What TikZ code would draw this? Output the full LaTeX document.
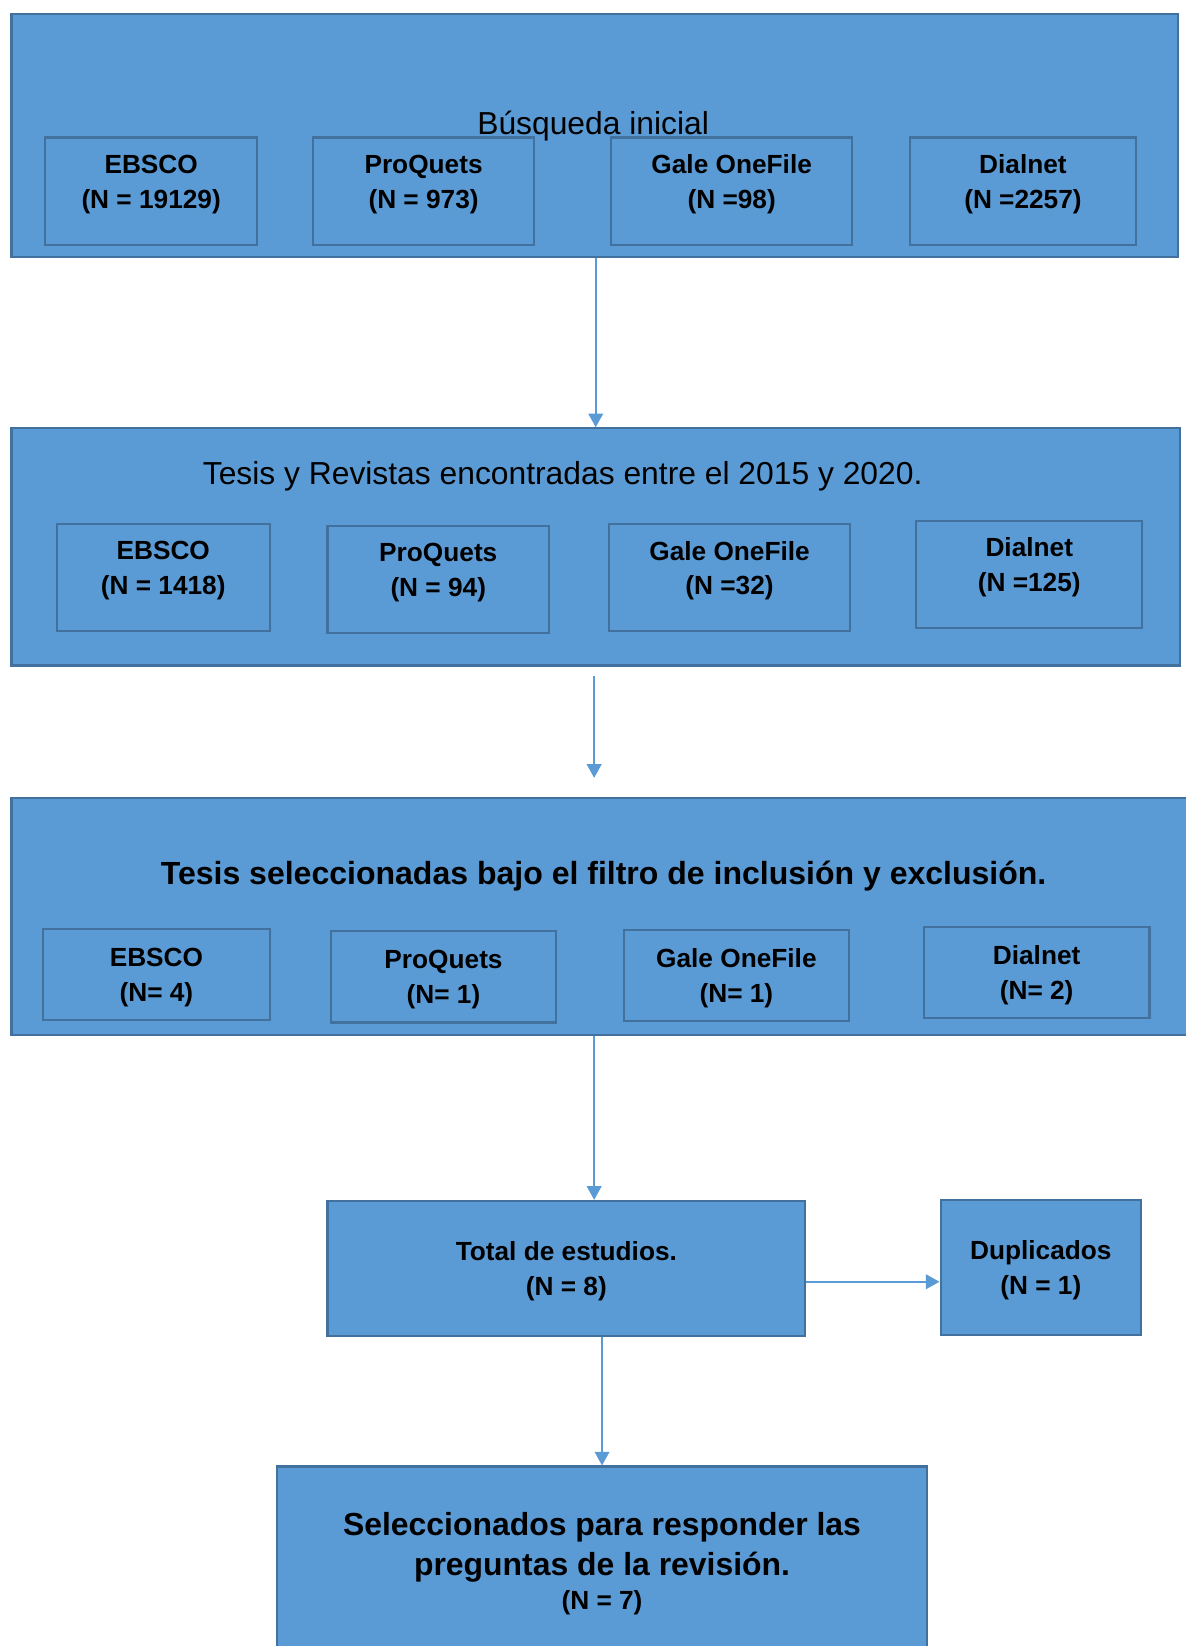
\documentclass[tikz,border=0pt]{standalone}
\usepackage{fontspec}
\setmainfont{Liberation Sans}
\usetikzlibrary{arrows.meta,positioning,calc}
\definecolor{ofblue}{HTML}{5B9BD5}
\definecolor{ofedge}{HTML}{41719C}

\begin{document}
\begin{tikzpicture}[
  x=1pt, y=-1pt,
  stage/.style={draw=ofedge, fill=ofblue, line width=2pt, anchor=north west, inner sep=0pt},
  src/.style={draw=ofedge, line width=2pt, align=center, inner sep=0pt, text depth=0pt,
              font=\fontsize{25}{33}\selectfont\bfseries},
  raised/.style={text depth=18pt},
  res/.style={src, fill=ofblue},
  hdr/.style={font=\fontsize{30.3}{36}\selectfont, inner sep=0pt},
  arr/.style={-{Triangle[length=13pt, width=14pt]}, draw=ofblue, line width=1.5pt}
]
\useasboundingbox (0,0) rectangle (1129,1568);

% ---------------- busqueda inicial ----------------
\node[stage, minimum width=1111pt, minimum height=232pt] (busq) at (10,12) {};
\node[hdr] (busqt) at (565,120) {Búsqueda inicial};
\node[src, raised, minimum width=202pt, minimum height=102pt] (b1) at (144,182) {EBSCO\\(N = 19129)};
\node[src, raised, minimum width=211pt, minimum height=102pt] (b2) at (403.5,182) {ProQuets\\(N = 973)};
\node[src, raised, minimum width=230pt, minimum height=102pt] (b3) at (697,182) {Gale OneFile\\(N =98)};
\node[src, raised, minimum width=215pt, minimum height=102pt] (b4) at (974.5,182) {Dialnet\\(N =2257)};

% ---------------- 2015 - 2020 ----------------
\node[stage, minimum width=1113pt, minimum height=226pt] (anios) at (10,407) {};
\node[hdr] (aniost) at (536,454) {Tesis y Revistas encontradas entre el 2015 y 2020.};
\node[src, raised, minimum width=203pt, minimum height=102pt] (r1) at (155.5,550) {EBSCO\\(N = 1418)};
\node[src, raised, minimum width=211pt, minimum height=102pt] (r2) at (417.5,552) {ProQuets\\(N = 94)};
\node[src, raised, minimum width=230pt, minimum height=102pt] (r3) at (695,550) {Gale OneFile\\(N =32)};
\node[src, raised, minimum width=215pt, minimum height=102pt] (r4) at (980.5,547) {Dialnet\\(N =125)};

% ---------------- filtro ----------------
\node[stage, minimum width=1140pt, minimum height=226pt] (filtro) at (10,759) {};
\node[hdr, font=\fontsize{30.5}{36}\selectfont\bfseries] (filtrot) at (575,835)
  {Tesis seleccionadas bajo el filtro de inclusión y exclusión.};
\node[src, minimum width=216pt, minimum height=87pt] (f1) at (149,928.5) {EBSCO\\(N= 4)};
\node[src, minimum width=215pt, minimum height=87pt] (f2) at (422.5,930.5) {ProQuets\\(N= 1)};
\node[src, minimum width=215pt, minimum height=87pt] (f3) at (701.5,929.5) {Gale OneFile\\(N= 1)};
\node[src, minimum width=215pt, minimum height=87pt] (f4) at (987.5,926.5) {Dialnet\\(N= 2)};

% ---------------- resultado ----------------
\node[res, minimum width=455pt, minimum height=129pt] (total) at (539.5,1208.5) {Total de estudios.\\(N = 8)};
\node[res, minimum width=191pt, minimum height=129pt] (dup) at (991.5,1207.5) {Duplicados\\(N = 1)};
\node[res, minimum width=619pt, minimum height=180pt, font=\fontsize{30.4}{38}\selectfont\bfseries] (final) at (573.5,1487)
  {Seleccionados para responder las\\preguntas de la revisión.\\[-6pt]{\fontsize{25}{30}\selectfont (N = 7)}};

% the second arrow floats between the boxes
\coordinate (a2s) at (566,644);
\coordinate (a2e) at (566,741);

\draw[arr] (busq.south -| anios.north) -- (anios.north);
\draw[arr] (a2s) -- (a2e);
\draw[arr] (filtro.south -| a2e) -- (total.north -| a2e);
\draw[arr] (total.south -| final.north) -- (final.north);
\draw[arr] ([yshift=-12.5pt]total.east) -- ([yshift=-12.5pt]total.east -| dup.west);

\end{tikzpicture}
\end{document}
